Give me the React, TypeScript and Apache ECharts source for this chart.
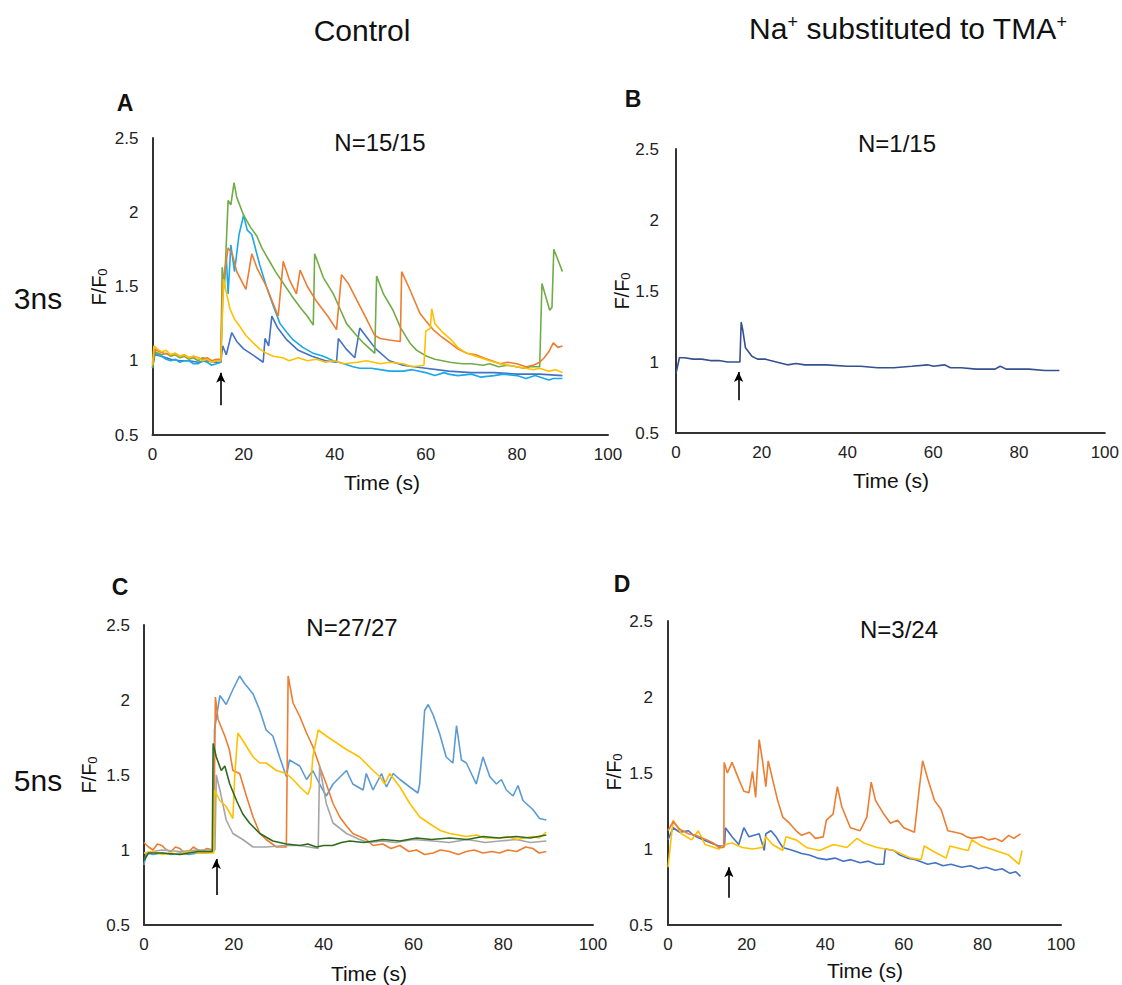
import React, { useEffect, useRef } from "react";
import * as echarts from "echarts";

type P = [number, number];

const xTicks = [0, 20, 40, 60, 80, 100];
const yTicks = [0.5, 1, 1.5, 2, 2.5];

// Panel A (3ns, control)
const A_green: P[] = [[0,0.95],[0.5,1.06],[2,1.04],[3,1.05],[4,1.03],[5,1.04],[6,1.02],[7,1.03],[8,1.01],[9,1.02],[10,1.0],[11,1.02],[12,1.01],[13,0.99],[14,1.0],[15,1.01],[15.3,1.63],[15.8,1.5],[16.6,2.08],[17.2,2.05],[17.9,2.2],[18.5,2.1],[20,1.98],[21.5,1.9],[22.9,1.84],[24,1.76],[25.5,1.68],[27,1.6],[28.3,1.54],[30.5,1.44],[32.4,1.36],[34,1.3],[35.3,1.24],[35.6,1.72],[37.5,1.56],[39.7,1.45],[41,1.36],[42.6,1.25],[44.5,1.18],[46.3,1.12],[48.8,1.05],[49.2,1.57],[50.7,1.45],[52.8,1.34],[54.5,1.22],[56.5,1.12],[58,1.07],[60.2,1.03],[62,1.01],[65.3,0.99],[68,0.98],[70,0.98],[72.6,0.97],[74,0.98],[76,0.96],[78,0.97],[79.9,0.96],[81.5,0.95],[83,0.96],[85,0.96],[85.5,1.52],[87.2,1.34],[87.7,1.36],[88.1,1.75],[89,1.68],[90,1.6]];
const A_orange: P[] = [[0,0.98],[0.5,1.08],[1.5,1.06],[2.5,1.05],[4,1.04],[5,1.05],[6,1.03],[7,1.04],[8,1.02],[9,1.03],[10,1.02],[11,1.01],[12,1.02],[13,1.0],[14,1.01],[15,1.01],[15.4,1.5],[16.6,1.76],[17.5,1.72],[18.5,1.6],[20.5,1.48],[21.8,1.72],[23,1.62],[25,1.5],[27.6,1.3],[28.7,1.67],[30,1.55],[31.6,1.45],[32.4,1.61],[34,1.5],[36,1.4],[38.5,1.3],[40.4,1.21],[41.5,1.58],[43,1.52],[45,1.4],[47,1.28],[48.8,1.17],[50,1.15],[52,1.14],[54.4,1.13],[54.7,1.6],[56.5,1.48],[58.7,1.32],[60,1.27],[61.6,1.21],[63.5,1.16],[65.3,1.12],[67,1.08],[69,1.05],[71,1.04],[72.6,1.02],[74.5,1.0],[76.3,0.98],[78,0.99],[80,0.98],[82,0.96],[83.6,0.97],[85,0.99],[86,1.02],[87,1.06],[88,1.12],[89,1.09],[90,1.1]];
const A_lightblue: P[] = [[0,0.95],[0.5,1.05],[2,1.03],[3,1.01],[4,1.0],[5,1.01],[6,0.99],[7,1.0],[8,1.0],[9,0.98],[10,0.98],[11,1.0],[12,0.99],[13,0.97],[14,0.98],[15,0.99],[15.4,1.41],[16.2,1.7],[16.6,1.45],[17.2,1.78],[18,1.6],[19,1.85],[20,1.98],[20.8,1.88],[21.8,1.85],[23.5,1.65],[25,1.5],[26.5,1.37],[28,1.25],[29.5,1.19],[30.9,1.14],[33,1.09],[35.3,1.05],[37.5,1.03],[39.7,1.0],[42,0.98],[44,0.96],[45.5,0.95],[48,0.95],[50,0.94],[52,0.93],[55,0.93],[57,0.94],[60,0.92],[62,0.9],[64,0.92],[65,0.91],[67,0.9],[70,0.91],[72,0.89],[75,0.9],[77,0.91],[80,0.9],[82,0.88],[84,0.9],[85,0.89],[87,0.87],[88,0.88],[90,0.88]];
const A_blue: P[] = [[0,0.96],[0.5,1.04],[2,1.03],[4,1.01],[6,1.0],[8,1.0],[10,0.99],[12,1.0],[14,0.99],[15,0.99],[15.4,1.1],[16.2,1.04],[17.4,1.19],[18.5,1.13],[20,1.08],[22,1.04],[24.3,0.99],[24.7,1.15],[25.5,1.1],[26.2,1.3],[27.5,1.22],[29.5,1.14],[32,1.07],[35,1.03],[38,1.0],[40.4,0.99],[40.8,1.15],[42.5,1.08],[44.4,1.02],[45.5,1.22],[47,1.16],[49,1.08],[52,1.0],[55,0.97],[60,0.95],[65,0.93],[70,0.92],[75,0.92],[80,0.91],[85,0.91],[90,0.9]];
const A_yellow: P[] = [[0,0.97],[0.3,1.1],[1,1.08],[2,1.06],[3,1.07],[4,1.04],[5,1.05],[6,1.03],[7,1.04],[8,1.02],[9,1.03],[10,1.02],[11,1.0],[12,1.01],[13,0.99],[14,1.0],[15,1.0],[15.6,1.55],[16.5,1.42],[17,1.35],[18,1.28],[19.2,1.23],[20.5,1.17],[22.1,1.12],[23.5,1.08],[25,1.05],[26.5,1.03],[28.6,1.02],[30,1.0],[32,1.02],[34,1.0],[36,1.01],[38,0.99],[40,1.0],[42,0.98],[45,0.99],[47,1.0],[50,0.98],[52,0.99],[55,0.98],[57,0.96],[59.6,0.97],[60,1.2],[61,1.22],[61.3,1.35],[62,1.25],[63.4,1.2],[65.6,1.14],[67,1.09],[69,1.05],[72,1.02],[74,1.0],[76.3,0.98],[78,0.97],[80,0.96],[82,0.95],[83.6,0.94],[85,0.95],[87,0.93],[88.5,0.94],[90,0.92]];

// Panel B (3ns, Na+ -> TMA+)
const B_navy: P[] = [[0,0.92],[0.8,1.03],[2,1.03],[4,1.02],[6,1.02],[8,1.01],[10,1.01],[12,1.0],[14,1.0],[14.9,1.0],[15.2,1.28],[15.6,1.22],[16.2,1.1],[17.7,1.04],[19,1.02],[20.9,1.02],[22,1.01],[24.8,0.99],[26,0.98],[28,0.99],[30,0.98],[35,0.98],[40,0.97],[43,0.97],[47,0.96],[50.8,0.96],[55,0.97],[58.7,0.98],[60,0.97],[62.6,0.98],[64,0.96],[66.5,0.96],[70,0.95],[74.4,0.95],[75.6,0.97],[77,0.95],[80,0.95],[82.3,0.95],[86,0.94],[89.4,0.94]];

// Panel C (5ns, control)
const C_blue: P[] = [[0,0.9],[0.5,0.98],[2,0.97],[4,0.98],[6,0.97],[8,0.98],[10,0.97],[12,0.98],[14,0.98],[15.5,0.99],[15.7,1.8],[16.9,2.03],[18.3,1.97],[19.8,2.07],[21.3,2.16],[22.4,2.11],[24.3,2.04],[25.8,1.93],[27.2,1.8],[28.7,1.76],[30.2,1.62],[31.7,1.49],[32.4,1.6],[34.7,1.56],[36.2,1.47],[37.6,1.53],[39.1,1.44],[40.6,1.36],[42.1,1.44],[45.1,1.53],[46.5,1.44],[48.8,1.4],[49.5,1.51],[51,1.4],[52.9,1.51],[54,1.42],[55.5,1.51],[57,1.47],[59.2,1.42],[61,1.38],[61.4,1.44],[62.5,1.93],[63.3,1.97],[64.4,1.9],[65.8,1.78],[67.3,1.62],[68.8,1.58],[69.6,1.83],[70.7,1.6],[71.8,1.58],[74,1.44],[75.5,1.62],[77,1.49],[78.5,1.44],[79.6,1.47],[80.7,1.4],[82.2,1.36],[83.3,1.43],[84.4,1.33],[86.6,1.27],[88.1,1.21],[89.6,1.2]];
const C_orange: P[] = [[0,1.05],[1,1.02],[2,1.0],[3,1.04],[4,1.03],[5,1.0],[6,0.99],[7,1.02],[8,1.01],[9,0.98],[10,0.99],[11,1.02],[12,1.0],[13,0.99],[14,1.01],[15.5,1.0],[15.9,2.02],[16.5,1.87],[18,1.76],[19,1.67],[19.8,1.53],[21.3,1.51],[22.8,1.36],[24.3,1.22],[25.8,1.11],[27.2,1.07],[29.5,1.02],[31.7,1.02],[32.1,2.16],[33.2,1.98],[34.7,1.89],[36.2,1.78],[37.6,1.69],[39.1,1.56],[40.6,1.44],[42.1,1.31],[43.6,1.22],[45.1,1.16],[46.5,1.11],[49.5,1.07],[51,1.03],[53.2,1.04],[55,1.01],[57,1.03],[59,0.99],[60.7,1.0],[62.5,0.97],[64.4,0.98],[66,1.0],[68,0.99],[70,0.97],[71.8,0.99],[73.5,1.0],[75.5,0.98],[77.5,0.99],[79.2,0.98],[81,1.0],[83,0.99],[85,1.02],[86.6,1.01],[88,0.98],[89.6,0.99]];
const C_yellow: P[] = [[0,0.98],[2,0.99],[4,0.97],[6,0.98],[8,0.97],[10,0.99],[12,0.98],[14,0.98],[15.5,0.98],[15.7,1.4],[16.9,1.33],[18.3,1.29],[19.8,1.21],[20.2,1.49],[20.9,1.78],[22,1.73],[24.3,1.62],[25.8,1.58],[27.2,1.58],[29.5,1.53],[31.7,1.51],[33.2,1.47],[34.7,1.42],[36.5,1.37],[37.1,1.42],[37.6,1.62],[38.8,1.8],[40.6,1.76],[42.1,1.73],[45.1,1.67],[48,1.62],[51,1.53],[52.5,1.49],[53.6,1.44],[54.7,1.51],[57,1.42],[59.2,1.31],[61.4,1.22],[64.4,1.16],[66,1.13],[68.1,1.11],[70,1.1],[71.8,1.09],[74,1.1],[76,1.08],[79.2,1.08],[81,1.09],[83,1.07],[86.6,1.09],[88,1.08],[89.6,1.12]];
const C_gray: P[] = [[0,0.98],[4,1.0],[8,0.99],[12,1.0],[15.8,1.0],[16.1,1.5],[16.9,1.4],[18.3,1.2],[19.8,1.11],[22,1.07],[24.3,1.02],[27.2,1.02],[31.7,1.03],[34.7,1.03],[38.8,1.01],[39.1,1.56],[40.6,1.31],[42.1,1.18],[45.1,1.11],[48,1.07],[50,1.05],[53.2,1.06],[56,1.05],[60,1.07],[64.4,1.06],[68,1.05],[72,1.07],[76,1.05],[79.2,1.06],[83,1.07],[86,1.05],[89.6,1.06]];
const C_darkgreen: P[] = [[0,0.93],[1,0.98],[4,0.98],[8,0.97],[12,0.99],[15.2,0.99],[15.4,1.71],[16.1,1.62],[17.2,1.53],[18,1.56],[19.1,1.44],[20.6,1.33],[22,1.24],[23.5,1.18],[25.8,1.11],[28.7,1.06],[31.7,1.04],[34.7,1.03],[36.5,1.04],[38.4,1.02],[40,1.03],[42,1.03],[44,1.05],[45.8,1.06],[49,1.05],[53.2,1.07],[57,1.06],[60.7,1.08],[64,1.07],[68.1,1.08],[72,1.07],[75.5,1.09],[79,1.08],[82.9,1.09],[86,1.08],[89.6,1.1]];

// Panel D (5ns, Na+ -> TMA+)
const D_orange: P[] = [[0,1.12],[1.3,1.18],[3,1.13],[5.2,1.1],[7,1.09],[9.9,1.06],[11.5,1.04],[12.9,1.01],[14.2,1.01],[14.3,1.57],[15.1,1.5],[16.3,1.57],[18,1.46],[19.3,1.38],[20.6,1.37],[21.5,1.51],[22.3,1.34],[23.2,1.72],[24,1.59],[24.9,1.41],[25.5,1.58],[26.6,1.46],[27.9,1.32],[29.2,1.21],[30.9,1.17],[32.6,1.12],[34,1.09],[36,1.11],[37.5,1.07],[39.5,1.08],[40.3,1.19],[42,1.23],[43.1,1.41],[44.2,1.28],[46.4,1.14],[48.9,1.12],[50.6,1.21],[51.7,1.44],[52.8,1.32],[54.9,1.23],[56.6,1.17],[58.4,1.19],[60,1.14],[62.7,1.11],[63.9,1.39],[64.8,1.58],[66.1,1.46],[67.8,1.32],[69.5,1.26],[71.2,1.12],[73,1.11],[74.7,1.1],[76,1.08],[77.3,1.07],[79.8,1.08],[81.5,1.06],[83.3,1.07],[85,1.05],[86.7,1.09],[88,1.07],[89.7,1.1]];
const D_blue: P[] = [[0,1.06],[1.3,1.14],[3,1.11],[5.2,1.12],[6.5,1.09],[8,1.07],[10,1.05],[12.9,1.02],[14.4,1.02],[14.6,1.14],[16.3,1.08],[18,1.03],[19.3,1.14],[20.6,1.08],[23.2,1.1],[24.5,0.99],[24.9,1.1],[26.2,1.12],[27.5,1.08],[29.2,1.01],[31.8,0.99],[34,0.97],[36,0.96],[38,0.94],[40.3,0.93],[42.5,0.94],[44.6,0.92],[46.5,0.93],[48.9,0.91],[51,0.92],[53,0.9],[54.9,0.9],[55.3,1.0],[57.5,0.99],[59,0.96],[60.9,0.94],[63,0.93],[66.1,0.9],[68,0.91],[70,0.89],[72,0.9],[74.7,0.88],[77,0.89],[79,0.87],[81,0.88],[83.3,0.86],[85,0.87],[87,0.84],[88.5,0.85],[89.7,0.82]];
const D_yellow: P[] = [[0,0.88],[1.3,1.19],[3.4,1.1],[6,1.06],[7.7,1.12],[9.4,1.03],[12.9,1.0],[14.6,1.03],[16.3,1.04],[18.9,1.01],[21.5,1.0],[24,1.01],[24.9,1.08],[26.6,1.03],[29.2,0.99],[30,1.08],[32.6,1.06],[35.2,1.01],[38.6,0.99],[42.1,1.03],[45.5,1.01],[48.1,1.07],[49.8,1.04],[53.2,1.01],[57.5,0.99],[61.8,0.94],[64.4,0.93],[65.2,1.02],[67.8,0.98],[70.8,0.94],[71.7,1.02],[74.7,1.0],[76.4,0.99],[77.3,1.06],[79.8,1.02],[83.3,0.99],[86.7,0.96],[89.3,0.9],[90.1,0.99]];

// Stimulus arrows: [time, bottom, top]
const arrowA = [15, 0.7, 0.92];
const arrowB = [14.6, 0.73, 0.93];
const arrowC = [16.1, 0.7, 0.94];
const arrowD = [15.5, 0.68, 0.88];

const FONT = "'Liberation Sans', Arial, Helvetica, sans-serif";

export default function App() {
  const ref = useRef<HTMLDivElement>(null);
  useEffect(() => {
    if (!ref.current) return;
    const chart = echarts.init(ref.current, undefined, { renderer: "svg" });

    const grids = [
      { left: 152.5, top: 138, width: 455.5, height: 297 },
      { left: 676, top: 149, width: 429, height: 284 },
      { left: 144, top: 625, width: 449, height: 300 },
      { left: 668, top: 621, width: 393, height: 304 },
    ];
    const yMargins = [14, 17, 14, 15];

    const axisLine = { show: true, lineStyle: { color: "#333", width: 2 } };
    const xAxes = grids.map((_, i) => ({
      type: "value",
      gridIndex: i,
      min: xTicks[0],
      max: xTicks[xTicks.length - 1],
      interval: 20,
      axisLine,
      axisTick: { show: false },
      splitLine: { show: false },
      axisLabel: { color: "#222", fontSize: 17, fontFamily: FONT, margin: 11 },
    }));
    const yAxes = grids.map((_, i) => ({
      type: "value",
      gridIndex: i,
      min: yTicks[0],
      max: yTicks[yTicks.length - 1],
      interval: 0.5,
      axisLine,
      axisTick: { show: false },
      splitLine: { show: false },
      axisLabel: { color: "#222", fontSize: 17, fontFamily: FONT, margin: yMargins[i] },
    }));

    const arrowMark = (a: number[]) => ({
      silent: true,
      symbol: ["none", "arrow"],
      symbolSize: [7, 10],
      label: { show: false },
      lineStyle: { color: "#000", width: 1.6, type: "solid" },
      data: [[{ coord: [a[0], a[1]] }, { coord: [a[0], a[2]] }]],
    });

    const mk = (name: string, data: P[], color: string, idx: number, arrow?: number[]) => {
      const s: any = {
        name,
        type: "line",
        xAxisIndex: idx,
        yAxisIndex: idx,
        data,
        showSymbol: false,
        symbol: "none",
        lineStyle: { color, width: 1.6 },
        itemStyle: { color },
      };
      if (arrow) s.markLine = arrowMark(arrow);
      return s;
    };

    const series = [
      mk("A blue", A_blue, "#4472C4", 0, arrowA),
      mk("A light blue", A_lightblue, "#1BA8E8", 0),
      mk("A green", A_green, "#70AD47", 0),
      mk("A orange", A_orange, "#ED7D31", 0),
      mk("A yellow", A_yellow, "#FFC000", 0),
      mk("B", B_navy, "#34508F", 1, arrowB),
      mk("C blue", C_blue, "#5B9BD5", 2, arrowC),
      mk("C orange", C_orange, "#ED7D31", 2),
      mk("C gray", C_gray, "#A5A5A5", 2),
      mk("C yellow", C_yellow, "#FFC000", 2),
      mk("C dark green", C_darkgreen, "#2F6B1E", 2),
      mk("D blue", D_blue, "#4472C4", 3, arrowD),
      mk("D yellow", D_yellow, "#FFC000", 3),
      mk("D orange", D_orange, "#ED7D31", 3),
    ];

    const txt = (text: string, x: number, y: number, size: number, extra: any = {}) => ({
      type: "text",
      x,
      y,
      silent: true,
      style: {
        text,
        fill: "#111",
        fontSize: size,
        fontFamily: FONT,
        align: "center",
        verticalAlign: "middle",
        ...extra,
      },
    });
    const ffo = (x: number, y: number) => ({
      type: "text",
      x,
      y,
      rotation: Math.PI / 2,
      silent: true,
      style: {
        text: "{a|F/F}{b|0}",
        align: "center",
        verticalAlign: "middle",
        rich: {
          a: { fontSize: 20, fontFamily: FONT, fill: "#111", verticalAlign: "bottom", lineHeight: 24 },
          b: { fontSize: 13, fontFamily: FONT, fill: "#111", verticalAlign: "bottom", lineHeight: 18 },
        },
      },
    });
    const sup = { fontSize: 18, fontFamily: FONT, fill: "#111", verticalAlign: "top", lineHeight: 34 };
    const main = { fontSize: 30, fontFamily: FONT, fill: "#111", verticalAlign: "top", lineHeight: 34 };

    const graphic = [
      txt("Control", 362, 30, 30),
      {
        type: "text",
        x: 908,
        y: 30,
        silent: true,
        style: {
          text: "{m|Na}{s|+}{m| substituted to TMA}{s|+}",
          align: "center",
          verticalAlign: "middle",
          rich: { m: main, s: sup },
        },
      },
      txt("3ns", 38, 298, 30),
      txt("5ns", 38, 780, 30),
      txt("A", 125, 103, 23, { fontWeight: "bold" }),
      txt("B", 633, 99, 23, { fontWeight: "bold" }),
      txt("C", 120, 587, 23, { fontWeight: "bold" }),
      txt("D", 622, 584, 23, { fontWeight: "bold" }),
      txt("N=15/15", 380, 142, 24),
      txt("N=1/15", 897, 143, 24),
      txt("N=27/27", 352, 627, 24),
      txt("N=3/24", 899, 629, 24),
      txt("Time (s)", 382, 482, 21),
      txt("Time (s)", 891, 480, 21),
      txt("Time (s)", 369, 973, 21),
      txt("Time (s)", 865, 970, 21),
      ffo(97, 287),
      ffo(620, 291),
      ffo(87, 775),
      ffo(612, 772),
    ];

    chart.setOption({
      animation: false,
      backgroundColor: "#fff",
      grid: grids,
      xAxis: xAxes,
      yAxis: yAxes,
      series,
      graphic,
    });
    return () => chart.dispose();
  }, []);

  return (
    <div
      ref={ref}
      style={{ position: "fixed", left: 0, top: 0, width: 1122, height: 985, background: "#fff" }}
    />
  );
}
